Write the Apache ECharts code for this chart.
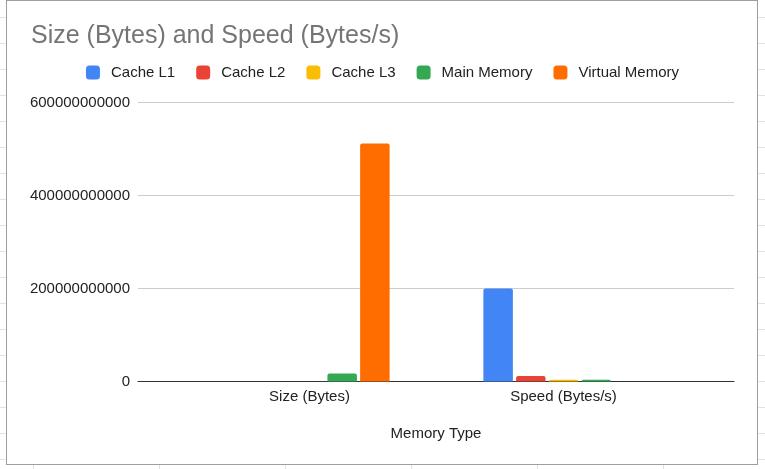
<!DOCTYPE html>
<html>
<head>
<meta charset="utf-8">
<script src="https://cdn.jsdelivr.net/npm/echarts@6/dist/echarts.min.js"></script>
<style>
  html, body { margin: 0; padding: 0; width: 765px; height: 469px; overflow: hidden; background: #fff; }
  #sheet {
    position: absolute; left: 0; top: 0; width: 765px; height: 469px;
    background-image:
      repeating-linear-gradient(to bottom, transparent 0px, transparent 17px, #e2e2e2 17px, #e2e2e2 18px, transparent 18px, transparent 26px),
      repeating-linear-gradient(to right, transparent 0px, transparent 33px, #e2e2e2 33px, #e2e2e2 34px, transparent 34px, transparent 126px);
  }
  #frame {
    position: absolute; left: 6px; top: 0px; width: 750px; height: 463px;
    background: #fff; border: 1px solid #9e9e9e;
  }
  #chart { position: absolute; left: 0; top: 0; width: 765px; height: 469px; }
</style>
</head>
<body>
<div id="sheet"></div>
<div id="frame"></div>
<div id="chart"></div>
<script>
// ---- data ----
const categories = ['Size (Bytes)', 'Speed (Bytes/s)'];
const seriesNames = ['Cache L1', 'Cache L2', 'Cache L3', 'Main Memory', 'Virtual Memory'];
const cacheL1 = [65536, 200000000000];
const cacheL2 = [262144, 12000000000];
const cacheL3 = [8388608, 3600000000];
const mainMemory = [17179869184, 3600000000];
const virtualMemory = [512000000000, 100000000];
const yTicks = [0, 200000000000, 400000000000, 600000000000];

const seriesData = [cacheL1, cacheL2, cacheL3, mainMemory, virtualMemory];
const colors = ['#4285F4', '#EA4335', '#FBBC04', '#34A853', '#FF6D01'];

const chart = echarts.init(document.getElementById('chart'), null, { renderer: 'canvas' });
const yMin = yTicks[0], yMax = yTicks[yTicks.length - 1], yStep = yTicks[1] - yTicks[0];
const font = '"Liberation Sans", Arial, sans-serif';

chart.setOption({
  backgroundColor: 'transparent',
  animation: false,
  color: colors,
  textStyle: { fontFamily: font },
  title: {
    text: 'Size (Bytes) and Speed (Bytes/s)',
    left: 31, top: 21, padding: 0,
    textStyle: { fontFamily: font, fontSize: 25, fontWeight: 'normal', color: '#757575', lineHeight: 30 }
  },
  legend: {
    data: seriesNames,
    left: 'center', top: 65, padding: 0,
    icon: 'roundRect', itemWidth: 14, itemHeight: 14, itemGap: 21,
    textStyle: { fontFamily: font, fontSize: 15, color: '#222', padding: [0, 0, 0, 6] }
  },
  grid: [
    { left: 138, right: 31, top: 102.5, bottom: 87.5 },
    { left: 182.5, right: 74.5, top: 102.5, bottom: 87.5 }
  ],
  xAxis: [
    {
      type: 'category', gridIndex: 0, data: categories,
      axisLine: { show: true, lineStyle: { color: '#333', width: 1 } },
      axisTick: { show: false }, axisLabel: { show: false },
      name: 'Memory Type', nameLocation: 'middle', nameGap: 45,
      nameTextStyle: { fontFamily: font, fontSize: 15, color: '#222' }
    },
    {
      type: 'category', gridIndex: 1, data: categories,
      axisLine: { show: false }, axisTick: { show: false },
      axisLabel: { fontFamily: font, fontSize: 15, color: '#222', margin: 8 }
    }
  ],
  yAxis: [
    {
      type: 'value', gridIndex: 0, min: yMin, max: yMax, interval: yStep,
      axisLine: { show: false }, axisTick: { show: false },
      axisLabel: { fontFamily: font, fontSize: 15, color: '#222', margin: 8, formatter: v => String(v) },
      splitLine: { show: true, lineStyle: { color: '#cccccc', width: 1 } }
    },
    {
      type: 'value', gridIndex: 1, min: yMin, max: yMax, interval: yStep,
      show: false, splitLine: { show: false }
    }
  ],
  series: seriesNames.map((name, i) => ({
    name: name,
    type: 'bar',
    xAxisIndex: 1, yAxisIndex: 1,
    data: seriesData[i],
    barWidth: 29.5,
    barGap: '10.8%',
    itemStyle: { color: colors[i], borderRadius: [2, 2, 0, 0] },
    z: 3
  }))
});
</script>
</body>
</html>
